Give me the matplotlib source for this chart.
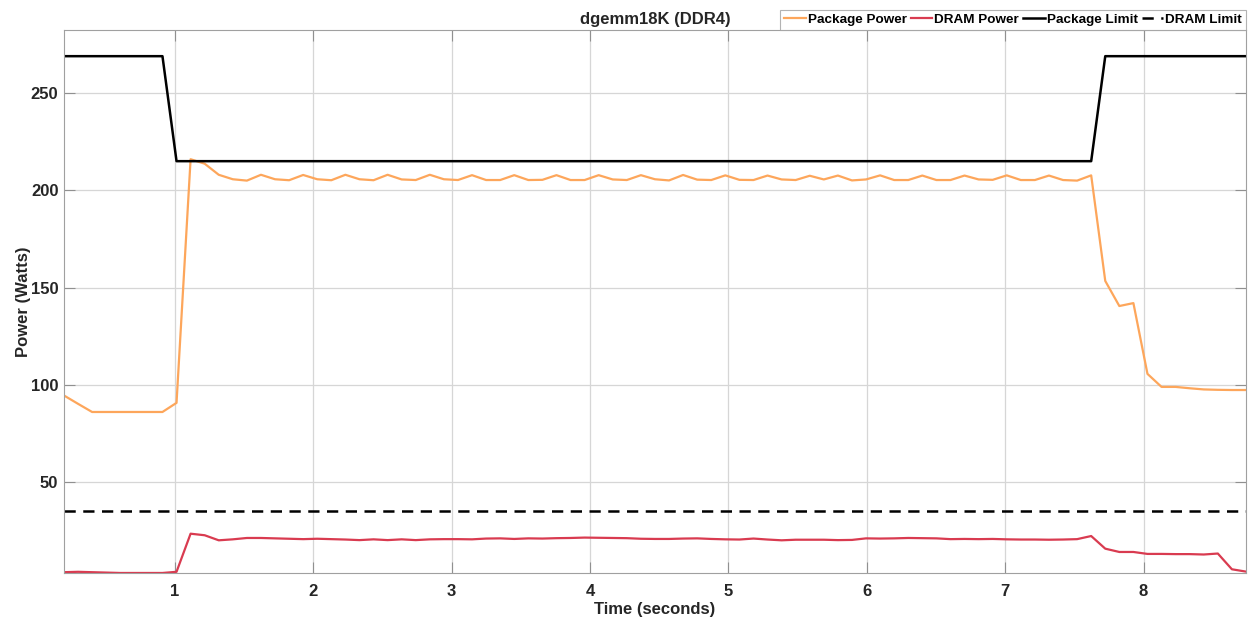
import numpy as np
import matplotlib
matplotlib.use("Agg")
import matplotlib.pyplot as plt

plt.rcParams['font.family'] = ['Liberation Sans', 'DejaVu Sans']
plt.rcParams['font.weight'] = 'bold'

# sampling grid (about 0.1 s between samples)
time_s = np.linspace(0.198, 8.74, 85)

package_power = [
    94.5, 90.2, 86.0, 86.0, 86.0, 86.0, 86.0, 86.0, 90.7, 216.0,
    213.7, 208.0, 205.7, 205.0, 208.0, 205.7, 205.2, 207.9, 205.7, 205.2,
    208.0, 205.7, 205.2, 208.0, 205.6, 205.3, 208.0, 205.7, 205.3, 207.8,
    205.3, 205.3, 207.8, 205.3, 205.4, 207.8, 205.3, 205.3, 207.8, 205.6,
    205.3, 207.8, 205.7, 205.1, 207.9, 205.5, 205.3, 207.7, 205.4, 205.3,
    207.6, 205.6, 205.3, 207.5, 205.6, 207.6, 205.1, 205.6, 207.7, 205.3,
    205.3, 207.6, 205.3, 205.3, 207.6, 205.6, 205.4, 207.7, 205.3, 205.3,
    207.6, 205.3, 205.0, 207.7, 153.4, 140.5, 142.0, 105.6, 98.9, 98.9,
    98.2, 97.6, 97.4, 97.3, 97.3,
]

dram_power = [
    3.6, 3.8, 3.6, 3.4, 3.2, 3.2, 3.2, 3.2, 3.8, 23.4,
    22.6, 20.0, 20.5, 21.2, 21.2, 21.0, 20.8, 20.6, 20.8, 20.6,
    20.4, 20.1, 20.5, 20.1, 20.5, 20.1, 20.5, 20.6, 20.6, 20.5,
    20.9, 21.0, 20.7, 21.0, 20.9, 21.1, 21.2, 21.4, 21.3, 21.2,
    21.1, 20.8, 20.7, 20.7, 20.9, 21.0, 20.7, 20.5, 20.4, 20.9,
    20.4, 20.0, 20.3, 20.3, 20.3, 20.1, 20.2, 21.0, 20.9, 21.0,
    21.2, 21.1, 21.0, 20.6, 20.7, 20.6, 20.7, 20.5, 20.4, 20.4,
    20.3, 20.4, 20.6, 22.2, 15.7, 14.0, 14.0, 13.0, 13.0, 12.9,
    12.9, 12.7, 13.2, 5.1, 3.9,
]

package_limit = [269] * 8 + [215] * 66 + [269] * 11
dram_limit = [35] * 85

fig = plt.figure(figsize=(12.54, 6.23), dpi=100)
ax = fig.add_axes([0.051, 0.0803, 0.9426, 0.8715])

ax.plot(time_s, package_power, color='#FDA65B', lw=1.6, label='Package Power')
ax.plot(time_s, dram_power, color='#D93B50', lw=1.6, label='DRAM Power')
ax.plot(time_s, package_limit, color='black', lw=1.8, label='Package Limit')
ax.plot(time_s, dram_limit, color='black', lw=1.8, dashes=(4.5, 3), label='DRAM Limit')

ax.set_xlim(time_s[0], time_s[-1])
ax.set_ylim(min(dram_power), 1.05 * max(package_limit))
ax.set_xticks(range(1, 9))
ax.set_yticks([50, 100, 150, 200, 250])

ax.grid(True, color='#D6D6D6', lw=0.9)
ax.set_axisbelow(True)
for s in ax.spines.values():
    s.set_color('#A0A0A0')
ax.tick_params(direction='in', length=8, color='#909090', labelsize=12,
               top=True, right=True, labelcolor='#262626')
ax.tick_params(axis='x', pad=8)
ax.tick_params(axis='y', pad=4)

ax.set_title('dgemm18K (DDR4)', fontsize=12, fontweight='bold', pad=4, color='#262626')
ax.set_xlabel('Time (seconds)', fontsize=12, fontweight='bold', labelpad=2, color='#262626')
ax.set_ylabel('Power (Watts)', fontsize=12, fontweight='bold', labelpad=0, color='#262626')

leg = ax.legend(loc='lower right', bbox_to_anchor=(1.0, 1.0), ncol=4, borderaxespad=0,
                fontsize=9.7, frameon=True, fancybox=False, handlelength=1.6,
                handletextpad=0.15, columnspacing=0.3, borderpad=0.3)
leg.get_frame().set_edgecolor('#A0A0A0')
leg.get_frame().set_linewidth(0.8)

fig.savefig('out.png', dpi=100)
